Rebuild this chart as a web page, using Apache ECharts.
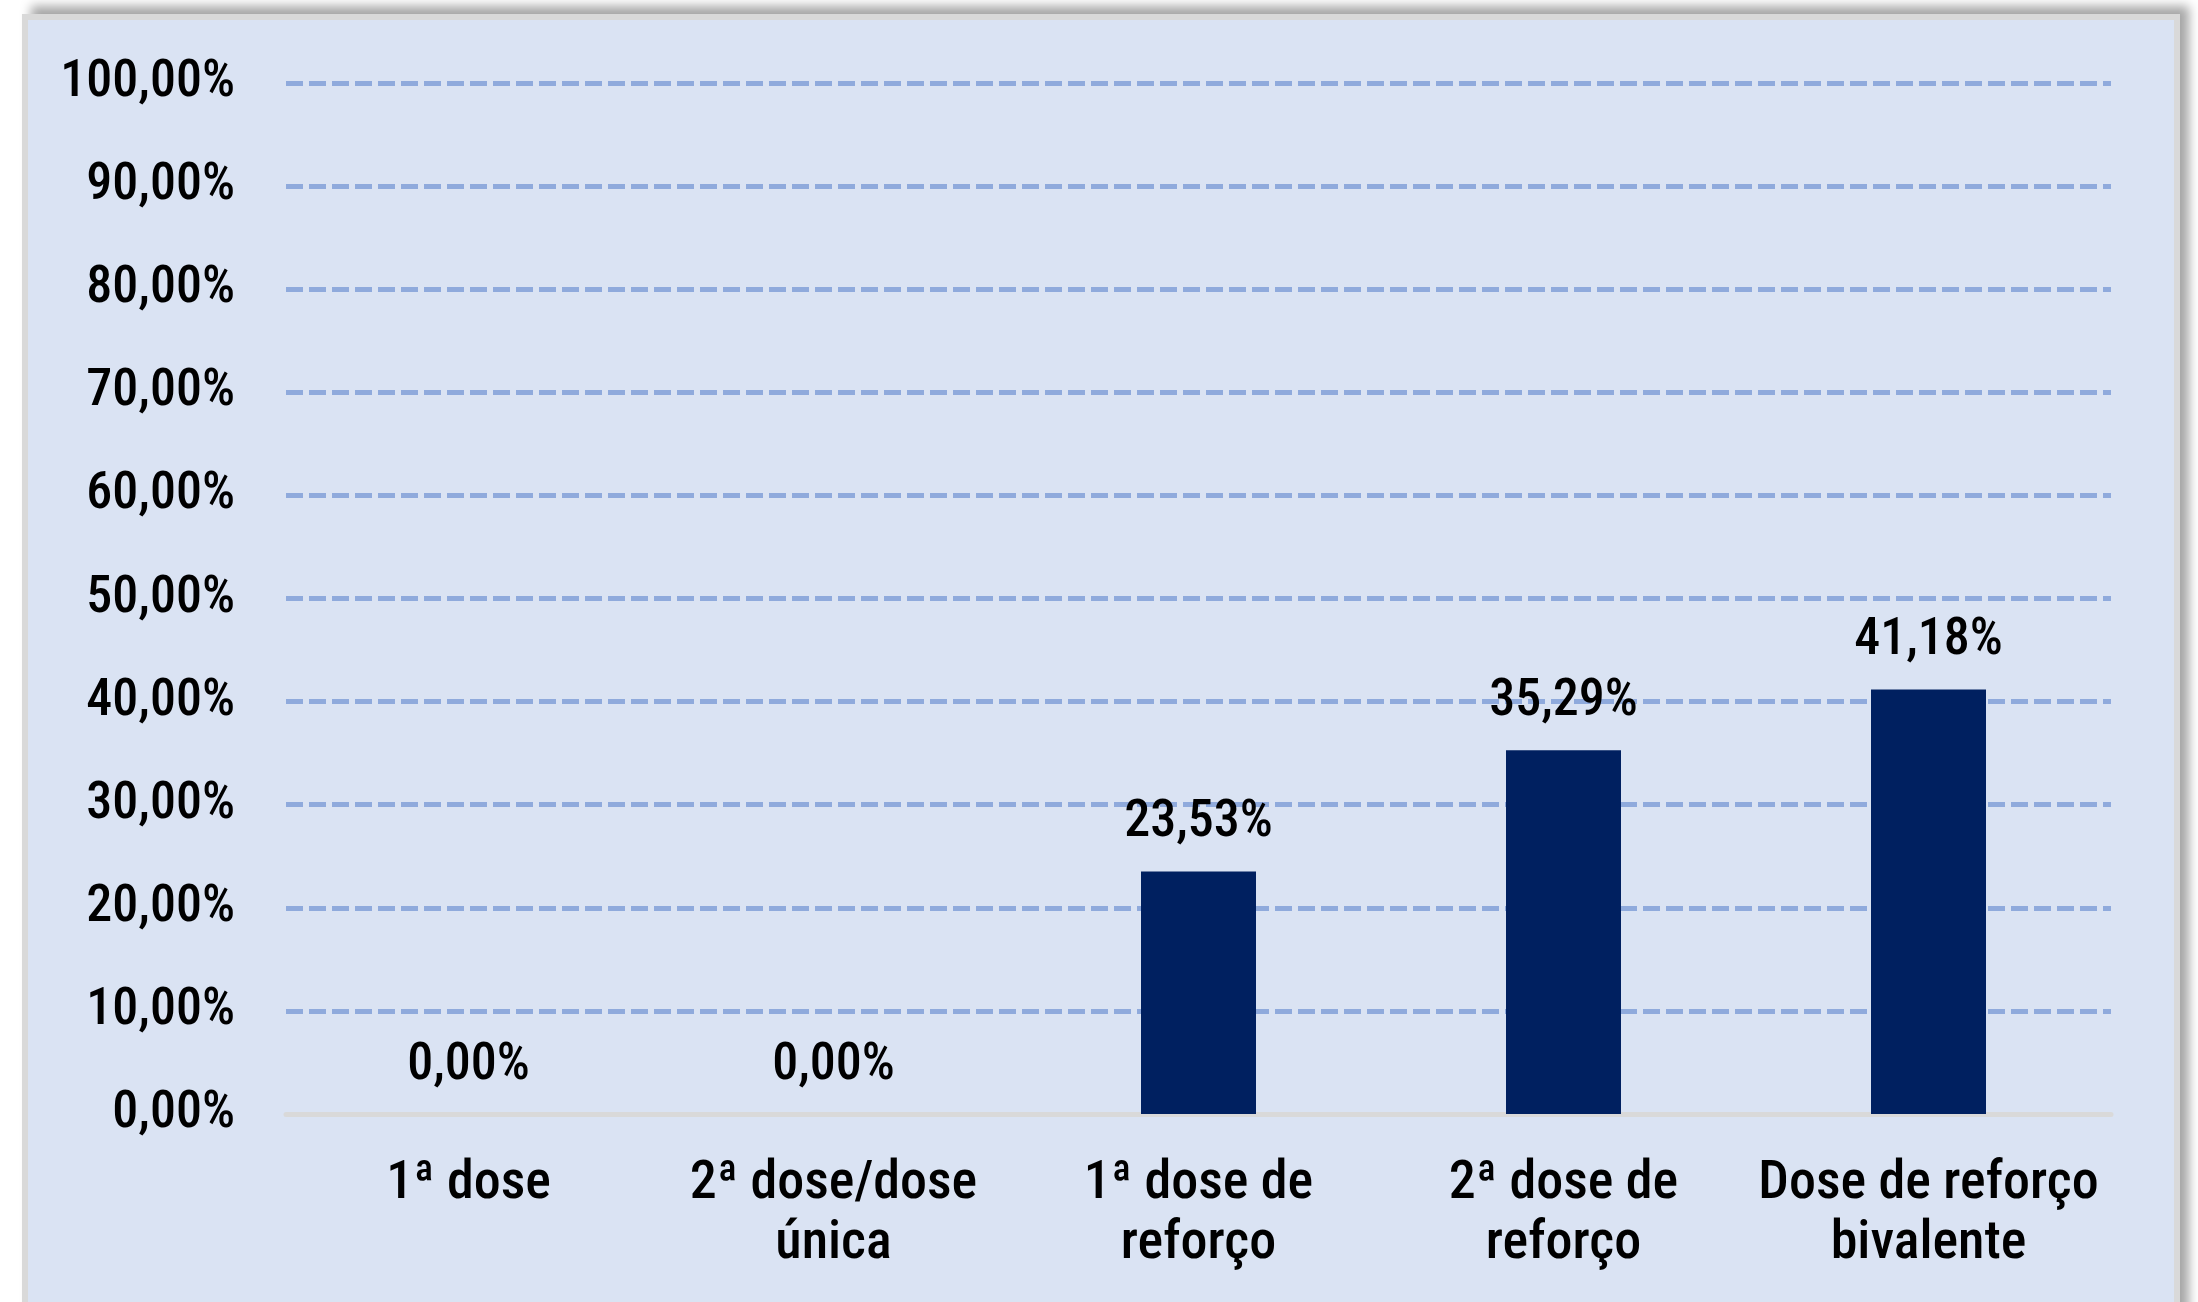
<!DOCTYPE html>
<html lang="pt">

<head>
    <meta charset="UTF-8">
    <title>Doses</title>
    <script src="https://cdn.jsdelivr.net/npm/echarts@6/dist/echarts.min.js"></script>
    <style>
        html,
        body {
            margin: 0;
            padding: 0;
            background: #ffffff;
            overflow: hidden;
        }

        .frame {
            position: absolute;
            left: 22px;
            top: 14px;
            width: 2158px;
            height: 1330px;
            box-sizing: border-box;
            border: 6px solid #d9d9d9;
            background: #dae3f3;
            box-shadow: 9px -8px 10px rgba(0, 0, 0, 0.35);
        }

        #chart {
            position: absolute;
            left: 0;
            top: 0;
            width: 2198px;
            height: 1302px;
        }
    </style>
</head>

<body>
    <div class="frame"></div>
    <div id="chart"></div>
</body>
<script>
    var categorias = ['1ª dose', '2ª dose/dose\núnica', '1ª dose de\nreforço', '2ª dose de\nreforço',
        'Dose de reforço\nbivalente'
    ];
    var valores = [0, 0, 23.53, 35.29, 41.18];
    var yMin = 0, yMax = 100, yPasso = 10;

    var fonte = "'Roboto Condensed', 'Liberation Sans', sans-serif";
    var peso = 500;

    function pct(v) {
        return Number(v).toFixed(2).replace('.', ',') + '%';
    }

    var myChart = echarts.init(document.getElementById('chart'));
    var option = {
        backgroundColor: 'transparent',
        animation: false,
        grid: {
            left: 286,
            right: 87,
            top: 83,
            bottom: 188
        },
        xAxis: {
            type: 'category',
            data: categorias,
            axisLine: {
                lineStyle: { color: '#d9d9d9', width: 5 }
            },
            axisTick: { show: false },
            axisLabel: {
                margin: 40,
                color: '#000',
                fontFamily: fonte,
                fontWeight: peso,
                fontSize: 54,
                lineHeight: 60,
                interval: 0
            }
        },
        yAxis: {
            type: 'value',
            min: yMin,
            max: yMax,
            interval: yPasso,
            axisLine: { show: false },
            axisTick: { show: false },
            axisLabel: {
                margin: 51,
                color: '#000',
                fontFamily: fonte,
                fontWeight: peso,
                fontSize: 52,
                formatter: pct
            },
            splitLine: {
                lineStyle: {
                    color: '#8faadc',
                    width: 5,
                    type: [17, 6]
                }
            }
        },
        series: [{
            type: 'bar',
            data: valores,
            barWidth: 115,
            itemStyle: { color: '#002060' },
            label: {
                show: true,
                position: 'top',
                distance: 22,
                color: '#000',
                fontFamily: fonte,
                fontWeight: peso,
                fontSize: 52,
                formatter: function (p) {
                    return pct(p.value);
                }
            }
        }]
    };
    myChart.setOption(option);
</script>

</html>
